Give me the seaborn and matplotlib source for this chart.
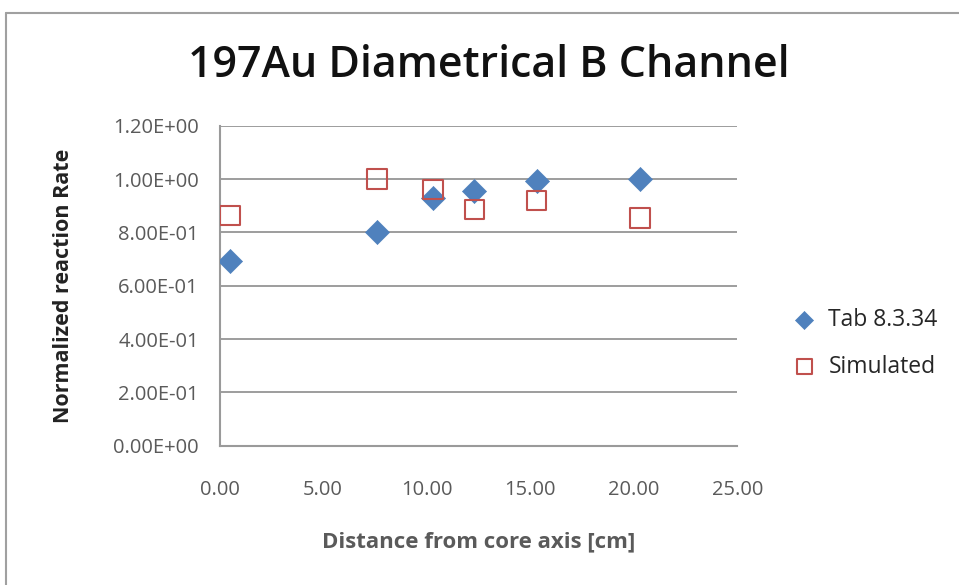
import matplotlib
matplotlib.use("Agg")
import matplotlib.pyplot as plt
import seaborn as sns
import pandas as pd
from matplotlib.ticker import FuncFormatter

distance = [0.5, 7.6, 10.3, 12.3, 15.3, 20.3]
tab_values = [0.693, 0.800, 0.930, 0.955, 0.993, 0.999]
sim_values = [0.864, 1.000, 0.961, 0.886, 0.920, 0.853]
series_names = ["Tab 8.3.34", "Simulated"]

df = pd.DataFrame({
    "x": distance + distance,
    "y": tab_values + sim_values,
    "series": [series_names[0]] * len(distance) + [series_names[1]] * len(distance),
})

sns.set_style("white")
plt.rcParams["font.family"] = ["Open Sans", "DejaVu Sans"]

fig = plt.figure(figsize=(9.59, 5.85), dpi=100)
ax = fig.add_axes([0.229, 0.238, 0.540, 0.547])

blue = "#4F81BD"
red = "#C0504D"
sns.scatterplot(data=df[df.series == series_names[0]], x="x", y="y", ax=ax,
                marker="D", s=150, color=blue, edgecolor=blue, linewidth=0.5,
                label=series_names[0], zorder=3)
sns.scatterplot(data=df[df.series == series_names[1]], x="x", y="y", ax=ax,
                marker="s", s=200, facecolor="none", edgecolor=red, linewidth=1.5,
                label=series_names[1], zorder=4)

ax.set_xlim(0, 25)
ax.set_ylim(0, 1.2)
ax.set_xticks([0, 5, 10, 15, 20, 25])
ax.set_yticks([0, 0.2, 0.4, 0.6, 0.8, 1.0, 1.2])
ax.xaxis.set_major_formatter(FuncFormatter(lambda v, p: f"{v:.2f}"))
ax.yaxis.set_major_formatter(FuncFormatter(lambda v, p: f"{v:.2E}"))
ax.grid(axis="y", color="#8c8c8c", linewidth=1.2)
ax.grid(axis="x", visible=False)
for s in ["top", "right"]:
    ax.spines[s].set_visible(False)
for s in ["left", "bottom"]:
    ax.spines[s].set_color("#9a9a9a")
    ax.spines[s].set_linewidth(1.5)
ax.tick_params(axis="both", which="major", direction="out", length=5, color="#9a9a9a",
               labelsize=14.5, labelcolor="#5a5a5a", pad=10)
ax.tick_params(axis="x", pad=20)

ax.set_xlabel("Distance from core axis [cm]", fontsize=16, fontweight="bold",
              color="#5a5a5a", labelpad=22)
ax.set_ylabel("Normalized reaction Rate", fontsize=15.5, fontweight="bold",
              color="#222222", labelpad=28)

fig.text(0.51, 0.888, "197Au Diametrical B Channel", ha="center", va="center",
         fontsize=31, fontweight="semibold", color="#111111")

leg = ax.legend(loc="center left", bbox_to_anchor=(1.045, 0.32), frameon=False,
                fontsize=16.5, handletextpad=0.05, labelspacing=1.0, markerscale=0.75)

# outer chart border
fig.add_artist(plt.Line2D([0.006, 1.0], [0.978, 0.978], color="#a0a0a0", lw=1.5))
fig.add_artist(plt.Line2D([0.006, 0.006], [0.0, 0.978], color="#a0a0a0", lw=1.5))

fig.savefig("out.png", dpi=100)
